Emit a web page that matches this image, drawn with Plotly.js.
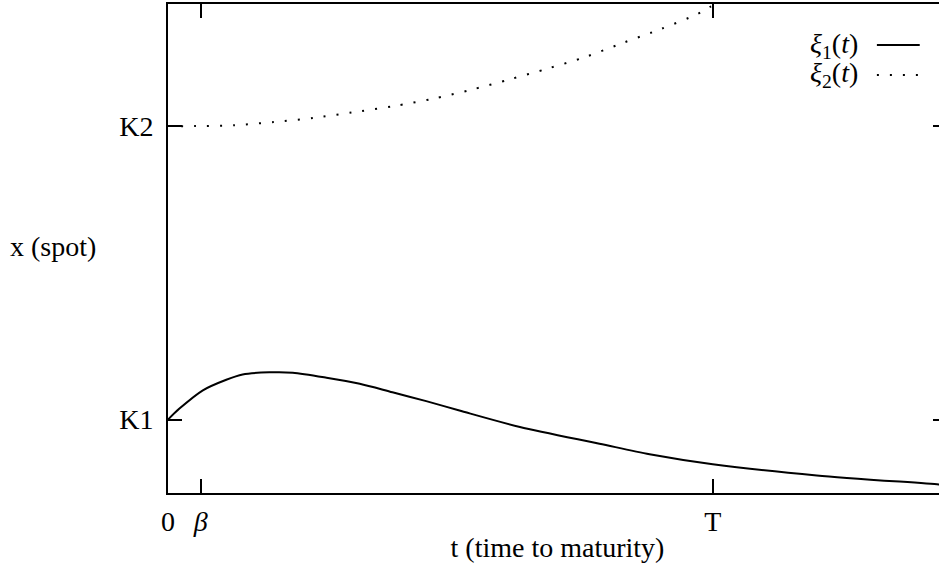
<!DOCTYPE html>
<html>
<head>
<meta charset="utf-8">
<script src="https://cdn.plot.ly/plotly-3.0.1.min.js"></script>
<style>
html, body { margin: 0; padding: 0; overflow: hidden; background: #fff; }
#chart { width: 960px; height: 569px; }
</style>
</head>
<body>
<div id="chart"></div>
<script>
// time to maturity (T = 1) and spot levels (K1 = 1, K2 = 2)
var t1 = [0, 0.021, 0.064, 0.107, 0.137, 0.186, 0.229, 0.291, 0.352, 0.412, 0.474, 0.535, 0.646, 0.792, 0.884, 1.0, 1.191, 1.415, 1.43];
var xi1 = [1.0, 1.0375, 1.100, 1.136, 1.154, 1.161, 1.160, 1.143, 1.122, 1.093, 1.063, 1.031, 0.975, 0.918, 0.882, 0.848, 0.810, 0.779, 0.776];
var t2 = [0, 0.05, 0.122, 0.194, 0.268, 0.339, 0.414, 0.486, 0.555, 0.627, 0.697, 0.767, 0.836, 0.905, 0.972, 0.994, 1.05];
var xi2 = [2.0, 2.0, 2.003, 2.014, 2.028, 2.047, 2.068, 2.093, 2.123, 2.159, 2.196, 2.236, 2.284, 2.331, 2.382, 2.405, 2.46];
var xTickVals = [0, 0.06, 1];
var xTickText = ['0', '<i>β</i>', 'T'];
var yTickVals = [1, 2];
var yTickText = ['K1', 'K2'];
var seriesNames = ['<i>ξ</i><sub>1</sub>(<i>t</i>)', '<i>ξ</i><sub>2</sub>(<i>t</i>)'];

var FONT = 'Liberation Serif';
var FS = 28;

var traces = [
  {x: t1, y: xi1, mode: 'lines', line: {color: '#000', width: 2, shape: 'spline', smoothing: 0.8}, showlegend: false, hoverinfo: 'skip'},
  {x: t2, y: xi2, mode: 'lines', line: {color: '#000', width: 2, dash: '2px,11px', shape: 'spline', smoothing: 0.8}, showlegend: false, hoverinfo: 'skip'}
];

var layout = {
  width: 960, height: 569,
  margin: {l: 168, r: 13, t: 4, b: 76},
  paper_bgcolor: '#fff', plot_bgcolor: '#fff',
  font: {family: FONT, size: FS, color: '#000'},
  showlegend: false,
  xaxis: {
    range: [0, 1.43], showgrid: false, zeroline: false,
    showline: true, linecolor: '#000', linewidth: 2, mirror: 'ticks',
    ticks: 'inside', ticklen: 14, tickwidth: 2, tickcolor: '#000',
    tickvals: xTickVals, ticktext: xTickText, ticklabelstandoff: 2,
    title: {text: 't (time to maturity)', font: {family: FONT, size: FS}, standoff: 2}
  },
  yaxis: {
    range: [0.75, 2.416], showgrid: false, zeroline: false,
    showline: true, linecolor: '#000', linewidth: 2, mirror: 'ticks',
    ticks: 'inside', ticklen: 14, tickwidth: 2, tickcolor: '#000',
    tickvals: yTickVals, ticktext: yTickText, ticklabelstandoff: 7
  },
  annotations: [
    {text: 'x (spot)', xref: 'paper', yref: 'paper', x: -0.2054, y: 0.505, xanchor: 'left', yanchor: 'middle', showarrow: false, font: {family: FONT, size: FS}},
    {text: seriesNames[0], xref: 'paper', yref: 'paper', x: 0.888, y: 0.916, xanchor: 'right', yanchor: 'middle', showarrow: false, font: {family: FONT, size: FS}},
    {text: seriesNames[1], xref: 'paper', yref: 'paper', x: 0.888, y: 0.855, xanchor: 'right', yanchor: 'middle', showarrow: false, font: {family: FONT, size: FS}}
  ],
  shapes: [
    {type: 'line', xref: 'paper', yref: 'paper', x0: 0.910, x1: 0.965, y0: 0.916, y1: 0.916, line: {color: '#000', width: 2}},
    {type: 'line', xref: 'paper', yref: 'paper', x0: 0.910, x1: 0.965, y0: 0.855, y1: 0.855, line: {color: '#000', width: 2, dash: '2px,11px'}}
  ]
};

Plotly.newPlot('chart', traces, layout, {staticPlot: true, displayModeBar: false});
</script>
</body>
</html>
